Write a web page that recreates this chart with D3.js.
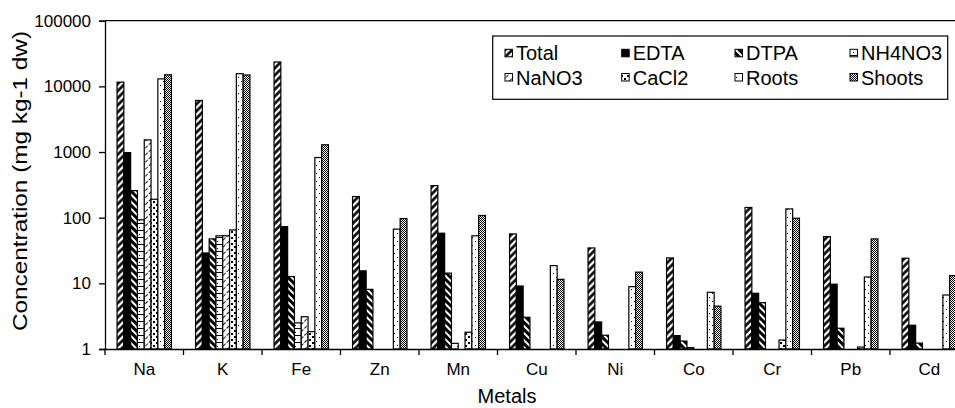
<!DOCTYPE html>
<html>
<head>
<meta charset="utf-8">
<script src="https://cdn.jsdelivr.net/npm/d3@7"></script>
<style>
  body { margin: 0; background: #fff; }
  svg { display: block; font-family: "Liberation Sans", Arial, sans-serif; }
</style>
</head>
<body>
<svg width="955" height="408"></svg>
<script>
// категории и серии
const metals = ["Na", "K", "Fe", "Zn", "Mn", "Cu", "Ni", "Co", "Cr", "Pb", "Cd"];
const seriesNames = ["Total", "EDTA", "DTPA", "NH4NO3", "NaNO3", "CaCl2", "Roots", "Shoots"];

// значения (mg kg-1 dw), null - столбца нет
const total  = [11600, 6100, 23500, 210, 308, 56.6, 34.6, 24.4, 143, 51.5, 24.1];
const edta   = [980, 29, 73, 15.5, 58, 9.1, 2.58, 1.6, 7.06, 9.7, 2.3];
const dtpa   = [258, 47.5, 12.7, 8.1, 14.3, 3.04, 1.62, 1.32, 5.08, 2.07, 1.23];
const nh4no3 = [93, 53, 2.5, null, 1.22, null, null, 1.05, null, null, null];
const nano3  = [1530, 53, 3.1, null, null, null, null, null, null, null, null];
const cacl2  = [191, 65, 1.84, null, 1.8, null, null, null, 1.37, 1.07, null];
const roots  = [13000, 15600, 824, 67, 53, 18.6, 8.9, 7.3, 136, 12.5, 6.65];
const shoots = [15000, 14900, 1288, 97, 108, 11.5, 14.8, 4.5, 98, 47.5, 13.1];

const yTicks = [1, 10, 100, 1000, 10000, 100000];

const seriesValues = [total, edta, dtpa, nh4no3, nano3, cacl2, roots, shoots];

function createPatterns(svg) {
    const defs = svg.append("defs");

    // полосы под углом
    function stripes(id, angle, period, w, dash) {
        const p = defs.append("pattern")
            .attr("id", id)
            .attr("patternUnits", "userSpaceOnUse")
            .attr("width", period).attr("height", period)
            .attr("patternTransform", `rotate(${angle})`);
        p.append("rect").attr("width", period).attr("height", period).attr("fill", "#fff");
        const l = p.append("line")
            .attr("x1", period / 2).attr("x2", period / 2)
            .attr("y1", 0).attr("y2", period)
            .attr("stroke", "#000").attr("stroke-width", w);
        if (dash) l.attr("stroke-dasharray", dash);
    }
    stripes("p-total", 45, 5, 2.6);
    stripes("p-dtpa", -45, 5, 3);
    stripes("p-nano3", 45, 5, 0.9, "2,1.5");

    // горизонтальные линии
    const h = defs.append("pattern").attr("id", "p-nh4no3")
        .attr("patternUnits", "userSpaceOnUse").attr("width", 6).attr("height", 7);
    h.append("rect").attr("width", 6).attr("height", 7).attr("fill", "#fff");
    h.append("rect").attr("x", 0).attr("y", 6).attr("width", 6).attr("height", 1).attr("fill", "#000");
    h.append("rect").attr("x", 1).attr("y", 3).attr("width", 1).attr("height", 1).attr("fill", "#000");

    // крупные точки
    const c = defs.append("pattern").attr("id", "p-cacl2")
        .attr("patternUnits", "userSpaceOnUse").attr("width", 6).attr("height", 6);
    c.append("rect").attr("width", 6).attr("height", 6).attr("fill", "#fff");
    c.append("rect").attr("x", 0).attr("y", 0).attr("width", 2).attr("height", 2).attr("fill", "#000");
    c.append("rect").attr("x", 3).attr("y", 3).attr("width", 2).attr("height", 2).attr("fill", "#000");

    // редкие точки
    const r = defs.append("pattern").attr("id", "p-roots")
        .attr("patternUnits", "userSpaceOnUse").attr("width", 6).attr("height", 8);
    r.append("rect").attr("width", 6).attr("height", 8).attr("fill", "#fff");
    r.append("rect").attr("x", 1).attr("y", 1).attr("width", 1).attr("height", 1).attr("fill", "#000");
    r.append("rect").attr("x", 4).attr("y", 5).attr("width", 1).attr("height", 1).attr("fill", "#000");

    // мелкая шахматка
    const s = defs.append("pattern").attr("id", "p-shoots")
        .attr("patternUnits", "userSpaceOnUse").attr("width", 2).attr("height", 2);
    s.append("rect").attr("width", 2).attr("height", 2).attr("fill", "#fff");
    s.append("rect").attr("x", 0).attr("y", 0).attr("width", 1).attr("height", 1).attr("fill", "#000");
    s.append("rect").attr("x", 1).attr("y", 1).attr("width", 1).attr("height", 1).attr("fill", "#000");
}

const fills = ["url(#p-total)", "#000", "url(#p-dtpa)", "url(#p-nh4no3)",
               "url(#p-nano3)", "url(#p-cacl2)", "url(#p-roots)", "url(#p-shoots)"];

function drawGraph() {
    const svg = d3.select("svg");
    createPatterns(svg);

    const attr_area = { left: 105, right: 968.5, top: 20.7, bottom: 349 };

    const scX = d3.scaleBand()
        .domain(metals)
        .range([attr_area.left, attr_area.right])
        .paddingInner(0.307)
        .paddingOuter(0.1535);

    const scSeries = d3.scaleBand()
        .domain(seriesNames)
        .range([0, scX.bandwidth()]);

    const scY = d3.scaleLog()
        .domain([1, 100000])
        .range([attr_area.bottom, attr_area.top]);

    // верхняя рамка области
    svg.append("line")
        .attr("x1", attr_area.left).attr("x2", attr_area.right)
        .attr("y1", attr_area.top).attr("y2", attr_area.top)
        .attr("stroke", "#000").attr("stroke-width", 1.3);

    // столбцы
    const groups = svg.append("g").selectAll("g")
        .data(seriesNames)
        .enter()
        .append("g")
        .attr("fill", (d, i) => fills[i]);

    groups.selectAll("rect")
        .data((name, i) => metals.map((m, j) => ({ metal: m, name: name, value: seriesValues[i][j] }))
                                 .filter(d => d.value != null && d.value > 1))
        .enter()
        .append("rect")
        .attr("x", d => scX(d.metal) + scSeries(d.name))
        .attr("y", d => scY(d.value))
        .attr("width", scSeries.bandwidth())
        .attr("height", d => scY(1) - scY(d.value))
        .attr("stroke", "#000")
        .attr("stroke-width", 1.2);

    // ось Y
    const axisY = svg.append("g")
        .attr("transform", `translate(${attr_area.left},0)`)
        .call(d3.axisLeft(scY).tickValues(yTicks).tickFormat(d3.format("d")).tickSize(6).tickPadding(8));
    axisY.select(".domain").attr("stroke-width", 1.3);
    axisY.selectAll(".tick line").attr("stroke-width", 1.3);
    axisY.selectAll("text").style("font-size", "17px").attr("fill", "#000")
        .style("font-family", "'Liberation Sans', Arial, sans-serif");

    // ось X: подписи по центру, засечки на границах категорий
    const axisX = svg.append("g")
        .attr("transform", `translate(0,${attr_area.bottom})`)
        .call(d3.axisBottom(scX).tickSize(0).tickPadding(14).tickSizeOuter(0));
    axisX.select(".domain").attr("stroke-width", 1.3);
    axisX.selectAll("text").style("font-size", "17px").attr("fill", "#000")
        .style("font-family", "'Liberation Sans', Arial, sans-serif");

    const gap = (scX.step() - scX.bandwidth()) / 2;
    svg.append("g").selectAll("line")
        .data(metals)
        .enter()
        .append("line")
        .attr("x1", d => scX(d) - gap).attr("x2", d => scX(d) - gap)
        .attr("y1", attr_area.bottom).attr("y2", attr_area.bottom + 6)
        .attr("stroke", "#000").attr("stroke-width", 1.3);

    // подписи осей
    svg.append("text")
        .attr("x", 507)
        .attr("y", 403)
        .attr("text-anchor", "middle")
        .style("font-size", "20px")
        .text("Metals");

    svg.append("text")
        .attr("transform", "translate(27,181) rotate(-90)")
        .attr("text-anchor", "middle")
        .attr("textLength", 300)
        .attr("lengthAdjust", "spacingAndGlyphs")
        .style("font-size", "20px")
        .text("Concentration (mg kg-1 dw)");

    drawLegend(svg);
}

function drawLegend(svg) {
    const cols = [505, 621.7, 735, 850];
    const rows = [53.3, 77.5];

    const lg = svg.append("g");
    lg.append("rect")
        .attr("x", 492.7).attr("y", 36)
        .attr("width", 455).attr("height", 63.3)
        .attr("fill", "#fff").attr("stroke", "#000").attr("stroke-width", 1.2);

    seriesNames.forEach((name, i) => {
        const x = cols[i % 4];
        const y = rows[Math.floor(i / 4)];
        lg.append("rect")
            .attr("x", x).attr("y", y - 4)
            .attr("width", 7.5).attr("height", 7.5)
            .attr("fill", fills[i]).attr("stroke", "#000").attr("stroke-width", 1);
        lg.append("text")
            .attr("x", x + 11).attr("y", y + 7)
            .style("font-size", "20px")
            .text(name);
    });
}

drawGraph();
</script>
</body>
</html>
